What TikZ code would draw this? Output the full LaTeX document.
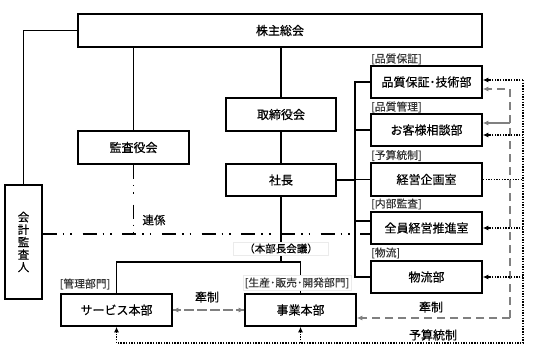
\documentclass[tikz,border=0pt]{standalone}
\usepackage{fontspec}
\newfontfamily\jp[FakeBold=0.5]{Noto Sans CJK JP}
\newfontfamily\jpl[FakeBold=0.2]{Noto Sans CJK JP}
\usetikzlibrary{arrows.meta,calc}
\begin{document}
\begin{tikzpicture}[x=1pt,y=-1pt,
  box/.style={draw,line width=1.6pt,inner sep=0pt,font=\jp\fontsize{12}{14}\selectfont},
  lbl/.style={font=\jpl\fontsize{10.8}{12}\selectfont,text=black!80,inner sep=1pt},
  txt/.style={font=\jp\fontsize{12}{14}\selectfont,inner sep=1pt},
  ln/.style={line width=1.5pt},
  dd/.style={line width=1.6pt,dash pattern=on 14pt off 6pt on 1.6pt off 6pt on 1.6pt off 10.5pt},
  gd/.style={line width=2.3pt,draw=black!50,dash pattern=on 8pt off 5pt},
  dt/.style={line width=1.5pt,dash pattern=on 1.4pt off 1.3pt},
  tip/.style={-{Latex[length=5.5pt,width=5pt]}}
]
\useasboundingbox (0,0) rectangle (539,360);

% boxes
\node[box,minimum width=404pt,minimum height=33pt] (kabu) at (280,30.5) {株主総会};
\node[box,minimum width=111pt,minimum height=33pt] (kansa) at (133.5,147.5) {監査役会};
\node[box,minimum width=110pt,minimum height=33pt] (tori) at (281,114.5) {取締役会};
\node[box,minimum width=110pt,minimum height=32pt] (shacho) at (281,180) {社長};
\node[box,minimum width=37pt,minimum height=114pt,align=center,font=\jp\fontsize{11.5}{12.5}\selectfont] (kaikei) at (23.5,242) {会\\計\\監\\査\\人};
\node[box,minimum width=111pt,minimum height=32pt] (hin) at (426.5,82) {品質保証･技術部};
\node[box,minimum width=111pt,minimum height=32pt] (oky) at (426.5,130) {お客様相談部};
\node[box,minimum width=111pt,minimum height=33pt] (kei) at (426.5,179.5) {経営企画室};
\node[box,minimum width=111pt,minimum height=32pt] (zen) at (426.5,228) {全員経営推進室};
\node[box,minimum width=111pt,minimum height=32pt] (but) at (426.5,277) {物流部};
\node[box,minimum width=111pt,minimum height=32pt] (svc) at (116.5,310) {サービス本部};
\node[box,minimum width=111pt,minimum height=32pt] (jig) at (300.5,310) {事業本部};

% solid connectors
\draw[ln] (kabu.west) -| (kaikei.north);
\draw[ln] (kansa.north |- kabu.south) -- (kansa.north);
\draw[ln] (tori.north |- kabu.south) -- (tori.north);
\draw[ln] (tori.south) -- (shacho.north);
\coordinate (bt) at (355,82);
\coordinate (bb) at (355,277);
\draw[ln] (hin.west) -- (bt) -- (bb) -- (but.west);
\draw[ln] (shacho.east) -- (shacho.east -| bt);
\draw[ln] (oky.west -| bt) -- (oky.west);
\draw[ln] (kei.west -| bt) -- (kei.west);
\coordinate (zb) at (355,221);
\draw[ln] (zb) -- (zb -| zen.west);
\coordinate (hj) at (281,262);
\draw[ln] (shacho.south) -- (hj);
\draw[ln] (svc.north) -- (svc.north |- hj) -- (jig.north |- hj) -- (jig.north);

% dash-dot (連係)
\coordinate (rk) at (133.5,234);
\draw[dd] (kansa.south) -- (rk);
\draw[dd] (kaikei.east |- rk) -- (zen.west |- rk);
\node[txt,font=\jp\fontsize{11.5}{13}\selectfont] (renkei) at (154,220) {連係};

% gray dashed (牽制)
\draw[gd,tip] (svc.east) -- (jig.west);
\draw[gd,tip] (jig.west) -- (svc.east);
\node[txt] (kensei1) at (207,297) {牽制};
\coordinate (g1) at (510,318);
\coordinate (g2) at (510,89);
\coordinate (g3) at (510,123);
\draw[gd,tip] (g1) -- (g1 -| jig.east);
\draw[gd,tip] (g1) -- (g2) -- (g2 -| hin.east);
\draw[line width=2.3pt,draw=black!50,tip] (g3) -- (g3 -| oky.east);
\node[txt] (kensei2) at (431,307) {牽制};

% dotted (予算統制)
\coordinate (d1) at (523,80);
\coordinate (d2) at (523,343);
\draw[dt] (kei.east) -- (kei.east -| d1);
\draw[dt,tip] (d1) -- (d1 -| hin.east);
\draw[dt] (d1) -- (d2) -- (d2 -| svc.south);
\draw[dt,tip] (d2 -| svc.south) -- (svc.south);
\draw[dt,tip] (d2 -| jig.south) -- (jig.south);
\coordinate (d3) at (523,135);
\draw[dt,tip] (d3) -- (d3 -| oky.east);
\draw[dt,tip] (zen.east -| d1) -- (zen.east);
\draw[dt,tip] (but.east -| d1) -- (but.east);
\node[txt] (yosan) at (433,335) {予算統制};

% small labels
\node[lbl,anchor=west] (l1) at (370,59) {[品質保証]};
\node[lbl,anchor=west] (l2) at (370,107) {[品質管理]};
\node[lbl,anchor=west] (l3) at (370,155.5) {[予算統制]};
\node[lbl,anchor=west] (l4) at (370,204) {[内部監査]};
\node[lbl,anchor=west] (l5) at (370,253) {[物流]};
\node[lbl] (l6) at (85,284) {[管理部門]};
\node[lbl,fill=white,draw=black!8,line width=0.4pt,inner sep=2pt] (l7) at (297,283) {[生産･販売･開発部門]};
\node[txt,fill=white,draw=black!8,line width=0.4pt,inner sep=1.5pt,minimum width=95pt,font=\jp\fontsize{10.5}{12}\selectfont] (l8) at (281,248.5) {（本部長会議）};
\end{tikzpicture}
\end{document}
